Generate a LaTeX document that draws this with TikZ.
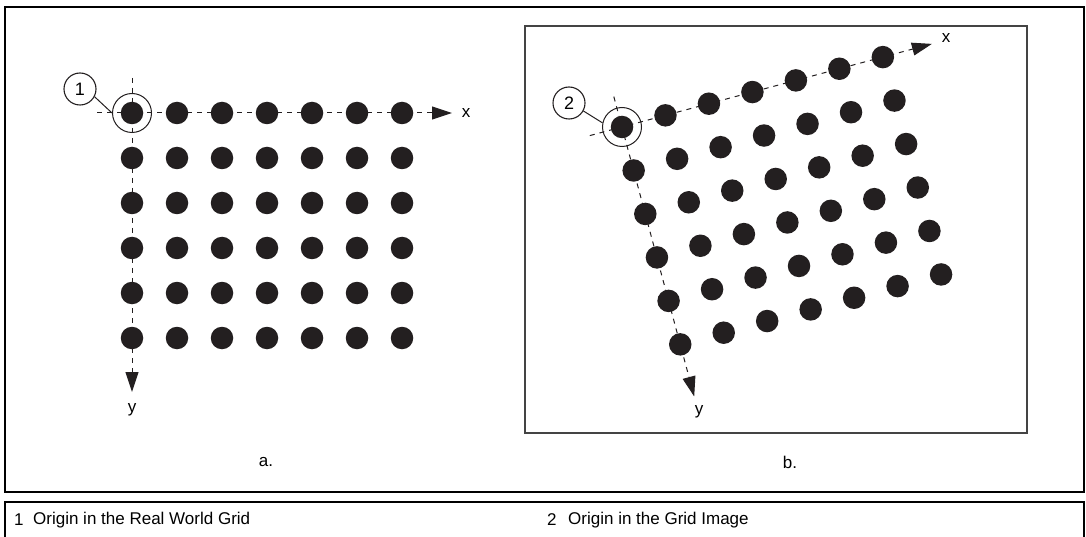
\documentclass[tikz,border=0pt]{standalone}
\usepackage{fontspec}
\setmainfont{Liberation Sans}
\usetikzlibrary{arrows.meta}
\definecolor{dotc}{HTML}{231F20}
\definecolor{framec}{HTML}{444444}
\begin{document}
\begin{tikzpicture}[x=1pt,y=-1pt,
  dot/.style={circle,fill=dotc,inner sep=0pt,minimum size=22.5pt},
  ring/.style={circle,draw=dotc,line width=1pt,inner sep=0pt,minimum size=39pt},
  callout/.style={circle,draw=dotc,line width=1.1pt,inner sep=0pt,minimum size=32pt,font=\fontsize{18}{21}\selectfont},
  axis/.style={draw=dotc,line width=1pt,dash pattern=on 5pt off 5pt,-{Triangle[length=20pt,width=13pt]}},
  lbl/.style={font=\fontsize{17}{20}\selectfont,inner sep=0pt},
  leader/.style={draw=dotc,line width=1pt}
]
\useasboundingbox (0,0) rectangle (1086,537);
% frames
\draw[line width=2pt] (5,7) rectangle (1084,492);
\draw[line width=2pt] (5,502) rectangle (1084,560);
\draw[framec,line width=1.5pt] (525,26) rectangle (1027,433);
% left axes
\coordinate (axs) at (97,113);
\coordinate (axe) at (452,113);
\coordinate (ays) at (132,78);
\coordinate (aye) at (132,392);
\draw[axis] (axs) -- (axe);
\draw[axis] (ays) -- (aye);
% left dots
\foreach \i in {0,...,6}{
  \foreach \j in {0,...,5}{
    \node[dot] (a-\i-\j) at (132+45*\i,113+45*\j) {};
  }
}
\node[ring] (ra) at (a-0-0) {};
\node[lbl] (xa) at (466,113) {x};
\node[lbl] (ya) at (132,410) {y};
\node[callout] (c1) at (80,89) {1};
\draw[leader] (c1.-28) -- (ra.west);
% right axes
\coordinate (bxs) at (589.8,135.6);
\coordinate (bxe) at (931.9,43.9);
\coordinate (bys) at (613.8,96.6);
\coordinate (bye) at (694.2,396.5);
\draw[axis] (bxs) -- (bxe);
\draw[axis] (bys) -- (bye);
\foreach \i in {0,...,6}{
  \foreach \j in {0,...,5}{
    \node[dot] (b-\i-\j) at ({622+43.47*\i+11.65*\j},{127-11.65*\i+43.47*\j}) {};
  }
}
\node[ring] (rb) at (b-0-0) {};
\node[lbl] (xb) at (946,38) {x};
\node[lbl] (yb) at (699,412) {y};
\node[callout] (c2) at (569,103) {2};
\draw[leader] (c2.-29) -- (rb.168);
% sub labels
\node[lbl] (la) at (266,462) {a.};
\node[lbl] (lb) at (790,462) {b.};
% legend
\node[lbl,anchor=west] (n1) at (14,520) {1};
\node[lbl,anchor=west] (t1) at (33,520) {Origin in the Real World Grid};
\node[lbl,anchor=west] (n2) at (547,520) {2};
\node[lbl,anchor=west] (t2) at (568,520) {Origin in the Grid Image};
\end{tikzpicture}
\end{document}
